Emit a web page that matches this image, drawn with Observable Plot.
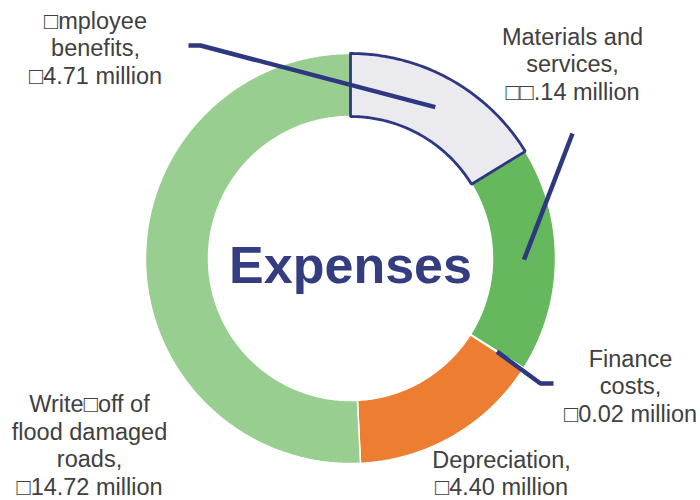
<!DOCTYPE html>
<html>
<head>
<meta charset="utf-8">
<script src="https://cdn.jsdelivr.net/npm/d3@7"></script>
<script src="https://cdn.jsdelivr.net/npm/@observablehq/plot@0.6"></script>
<style>
  html, body { margin: 0; padding: 0; background: #ffffff; }
  #chart { width: 700px; height: 500px; }
</style>
</head>
<body>
<div id="chart"></div>
<script>
// ---- data ----
const categories = ["Employee benefits", "Materials and services", "Finance costs", "Depreciation", "Write-off of flood damaged roads"];
const values = [4.71, 5.14, 0.02, 4.40, 14.72];
const labels = [
  "\u25A1mployee\nbenefits,\n\u25A14.71 million",
  "Materials and\nservices,\n\u25A1\u25A1.14 million",
  "Finance\ncosts,\n\u25A10.02 million",
  "Depreciation,\n\u25A14.40 million",
  "Write\u25A1off of\nflood damaged\nroads,\n\u25A114.72 million"
];
const colors = ["#EAEAEF", "#65B85B", "#FFFFFF", "#ED7D31", "#98CE90"];
const centerTitle = "Expenses";

// ---- layout ----
const R0 = 142, R1 = 205;           // ring radii (px)
const navy = "#2E3880";
// label anchor positions relative to the ring centre, and leader-line outer points
const labelPos = [
  {x: -255, y: -211}, {x: 222, y: -195}, {x: 280, y: 127}, {x: 151, y: 214}, {x: -261, y: 186}
];
const leaderOuter = [
  [[-162, -213], [-150, -213]],
  [[222, -125]],
  [[203, 125], [190, 125]],
  null,
  null
];

const pie = d3.pie().sort(null).value(d => d.value).startAngle(0).endAngle(2 * Math.PI);
const arcs = pie(categories.map((c, i) => ({cat: c, value: values[i], color: colors[i], label: labels[i]})));

// polygon points for each slice (in px relative to centre, y down)
const slicePts = [];
arcs.forEach((a, i) => {
  const n = Math.max(2, Math.ceil((a.endAngle - a.startAngle) / 0.01));
  const pts = [];
  for (let k = 0; k <= n; k++) {
    const t = a.startAngle + (a.endAngle - a.startAngle) * k / n;
    pts.push({x: R1 * Math.sin(t), y: -R1 * Math.cos(t)});
  }
  for (let k = n; k >= 0; k--) {
    const t = a.startAngle + (a.endAngle - a.startAngle) * k / n;
    pts.push({x: R0 * Math.sin(t), y: -R0 * Math.cos(t)});
  }
  pts.push(pts[0]);
  pts.forEach(p => slicePts.push({...p, i, cat: a.data.cat, color: a.data.color}));
});

// leader lines: from outer points to slice centroid
const leaderPts = [];
arcs.forEach((a, i) => {
  if (!leaderOuter[i]) return;
  const mid = (a.startAngle + a.endAngle) / 2;
  const rm = (R0 + R1) / 2;
  leaderOuter[i].forEach(p => leaderPts.push({x: p[0], y: p[1], i}));
  leaderPts.push({x: rm * Math.sin(mid), y: -rm * Math.cos(mid), i});
});

const labelData = arcs.map((a, i) => ({x: labelPos[i].x, y: labelPos[i].y, text: a.data.label}));

const chart = Plot.plot({
  width: 700,
  height: 500,
  margin: 0,
  x: {domain: [-350, 350], range: [0, 700], axis: null},
  y: {domain: [-258, 242], range: [0, 500], axis: null},
  style: {fontFamily: "'Liberation Sans', Arial, sans-serif", background: "#ffffff"},
  marks: [
    Plot.line(slicePts.filter(d => d.i !== 0), {
      x: "x", y: "y", z: "i", fill: "color", stroke: "#ffffff", strokeWidth: 1.5,
      strokeLinejoin: "miter", curve: "linear"
    }),
    Plot.line(slicePts.filter(d => d.i === 0), {
      x: "x", y: "y", z: "i", fill: "color", stroke: navy, strokeWidth: 2.8,
      strokeLinejoin: "miter", curve: "linear"
    }),
    Plot.line(leaderPts, {
      x: "x", y: "y", z: "i", stroke: navy, strokeWidth: 4.5,
      strokeLinecap: "butt", strokeLinejoin: "miter", curve: "linear"
    }),
    Plot.text(labelData, {
      x: "x", y: "y", text: "text", fontSize: 23.5, fill: "#404040",
      textAnchor: "middle", lineAnchor: "middle", lineHeight: 1.18
    }),
    Plot.text([centerTitle], {
      x: [0], y: [8], text: d => d, fontSize: 52, fontWeight: "bold", fill: "#343D7F",
      textAnchor: "middle", lineAnchor: "middle"
    })
  ]
});
document.getElementById("chart").appendChild(chart);
</script>
</body>
</html>
